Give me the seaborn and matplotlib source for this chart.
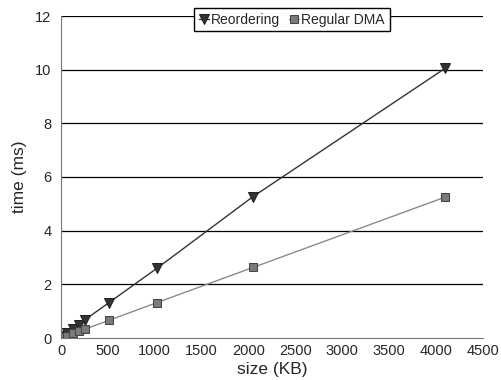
import numpy as np
import pandas as pd
import seaborn as sns
import matplotlib.pyplot as plt

sizes = [1, 2, 4, 8, 16, 32, 64, 128, 192, 256, 512, 1024, 2048, 4096]
reordering = [0.01, 0.01, 0.02, 0.03, 0.05, 0.09, 0.17, 0.33, 0.47, 0.68, 1.32, 2.6, 5.27, 10.05]
regular_dma = [0.01, 0.01, 0.01, 0.02, 0.03, 0.05, 0.09, 0.17, 0.25, 0.33, 0.66, 1.32, 2.63, 5.25]

df = pd.DataFrame({"size": sizes, "Reordering": reordering, "Regular DMA": regular_dma})

sns.set_style("white")
plt.rcParams["font.family"] = ["Liberation Sans", "DejaVu Sans"]

fig = plt.figure(figsize=(5.01, 3.80), dpi=100)
ax = fig.add_axes([61 / 501, 1 - 338 / 380, 422 / 501, 322 / 380])

for y in range(2, 13, 2):
    ax.axhline(y, color="black", lw=0.9, zorder=0)

sns.lineplot(data=df, x="size", y="Reordering", ax=ax, color="#333333", lw=1.0,
             marker="v", markersize=6.5, markerfacecolor="#333333",
             markeredgecolor="#222222", label="Reordering")
sns.lineplot(data=df, x="size", y="Regular DMA", ax=ax, color="#8a8a8a", lw=1.0,
             marker="s", markersize=5.5, markerfacecolor="#7a7a7a",
             markeredgecolor="#444444", label="Regular DMA")

ax.set_xlim(0, 4500)
ax.set_ylim(0, 12)
ax.set_xticks(range(0, 4501, 500))
ax.set_yticks(range(0, 13, 2))
ax.set_xlabel("size (KB)", fontsize=12.5, labelpad=3)
ax.set_ylabel("time (ms)", fontsize=12.5, labelpad=6)

for s in ["top", "right"]:
    ax.spines[s].set_visible(False)
ax.spines["left"].set_color("#777777")
ax.spines["bottom"].set_color("#777777")
ax.tick_params(axis="x", direction="in", length=5, color="#777777", labelsize=10.5, pad=4)
ax.tick_params(axis="y", direction="out", length=5, color="#777777", labelsize=10.5, pad=2)

leg = ax.legend(loc="center", bbox_to_anchor=(0.547, 0.989), ncol=2, fontsize=10,
                frameon=True, fancybox=False, edgecolor="black", framealpha=1,
                handlelength=0.7, handletextpad=0.2, columnspacing=0.6,
                borderpad=0.35, borderaxespad=0)
leg.get_frame().set_linewidth(1.0)

fig.savefig("out.png", dpi=100)
